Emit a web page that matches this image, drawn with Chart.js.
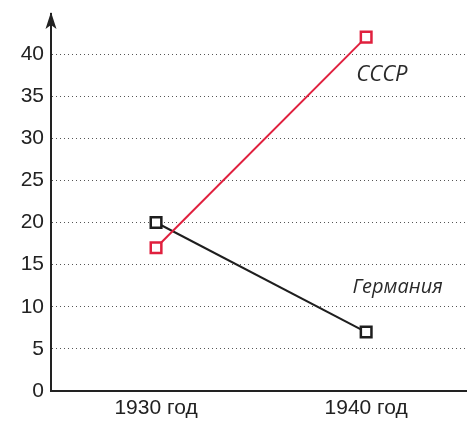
<!DOCTYPE html>
<html><head><meta charset="utf-8">
<script src="https://cdn.jsdelivr.net/npm/chart.js@4/dist/chart.umd.min.js"></script>
<style>html,body{margin:0;padding:0;background:#fff}#wrap{width:467px;height:423px}</style>
</head><body><div id="wrap"><canvas id="c" width="467" height="423"></canvas></div>
<script>
const years = [1930, 1940];
const yearLabels = ['1930 год', '1940 год'];
const ussr = [17, 42];
const germany = [20, 7];
const yTicks = [0, 5, 10, 15, 20, 25, 30, 35, 40];
const seriesNames = ['СССР', 'Германия'];
const nameAnchors = [[1940.75, 37.5], [1941.5, 12.3]];
const nameSizes = [22, 20];

function noPad(s) { s.paddingLeft = 0; s.paddingRight = 0; s.paddingTop = 0; s.paddingBottom = 0; }

const extras = {
  id: 'extras',
  afterDraw(chart) {
    const ctx = chart.ctx, ca = chart.chartArea, xs = chart.scales.x, ys = chart.scales.y;
    ctx.save();
    ctx.fillStyle = '#222';
    ctx.beginPath();
    ctx.moveTo(ca.left, 12);
    ctx.lineTo(ca.left - 5.5, 29);
    ctx.lineTo(ca.left, 25);
    ctx.lineTo(ca.left + 5.5, 29);
    ctx.closePath();
    ctx.fill();
    ctx.fillStyle = '#2a2a2a';
    ctx.textAlign = 'center';
    ctx.textBaseline = 'middle';
    seriesNames.forEach((n, i) => {
      ctx.font = 'italic ' + nameSizes[i] + 'px "Open Sans"';
      ctx.fillText(n, xs.getPixelForValue(nameAnchors[i][0]), ys.getPixelForValue(nameAnchors[i][1]));
    });
    ctx.restore();
  }
};

new Chart(document.getElementById('c'), {
  type: 'line',
  data: {
    datasets: [
      { label: seriesNames[0], data: years.map((x, i) => ({x, y: ussr[i]})), borderColor: '#e0203e', backgroundColor: '#fff',
        borderWidth: 2, pointStyle: 'rect', pointRadius: 7.5, pointBorderWidth: 2.5, pointBorderColor: '#e0203e', pointBackgroundColor: '#fff' },
      { label: seriesNames[1], data: years.map((x, i) => ({x, y: germany[i]})), borderColor: '#1e1e1e', backgroundColor: '#fff',
        borderWidth: 2, pointStyle: 'rect', pointRadius: 7.5, pointBorderWidth: 2.5, pointBorderColor: '#1e1e1e', pointBackgroundColor: '#fff' }
    ]
  },
  options: {
    responsive: false, animation: false,
    layout: { autoPadding: false, padding: { top: 14, right: 0, left: 0, bottom: 0 } },
    plugins: { legend: { display: false }, tooltip: { enabled: false } },
    scales: {
      x: {
        type: 'linear', min: 1925, max: 1944.8,
        afterBuildTicks(s) { s.ticks = years.map(v => ({ value: v })); },
        afterFit(s) { s.height = 32; noPad(s); },
        ticks: { color: '#222', font: { family: '"Liberation Sans Narrow", "Liberation Sans"', size: 21 }, padding: 5,
          callback: (v) => yearLabels[years.indexOf(v)] },
        grid: { display: false, drawTicks: false },
        border: { display: true, color: '#222', width: 2 }
      },
      y: {
        min: 0, max: 44.75,
        afterBuildTicks(s) { s.ticks = yTicks.map(v => ({ value: v })); },
        afterFit(s) { s.width = 51; noPad(s); },
        ticks: { color: '#222', font: { family: '"Liberation Sans Narrow", "Liberation Sans"', size: 21 }, padding: 7 },
        grid: { drawTicks: false, color: (c) => c.tick && c.tick.value === 0 ? 'rgba(0,0,0,0)' : '#555', lineWidth: 1 },
        border: { display: true, color: '#222', width: 2, dash: [1, 3] }
      }
    }
  },
  plugins: [extras]
});
</script></body></html>
